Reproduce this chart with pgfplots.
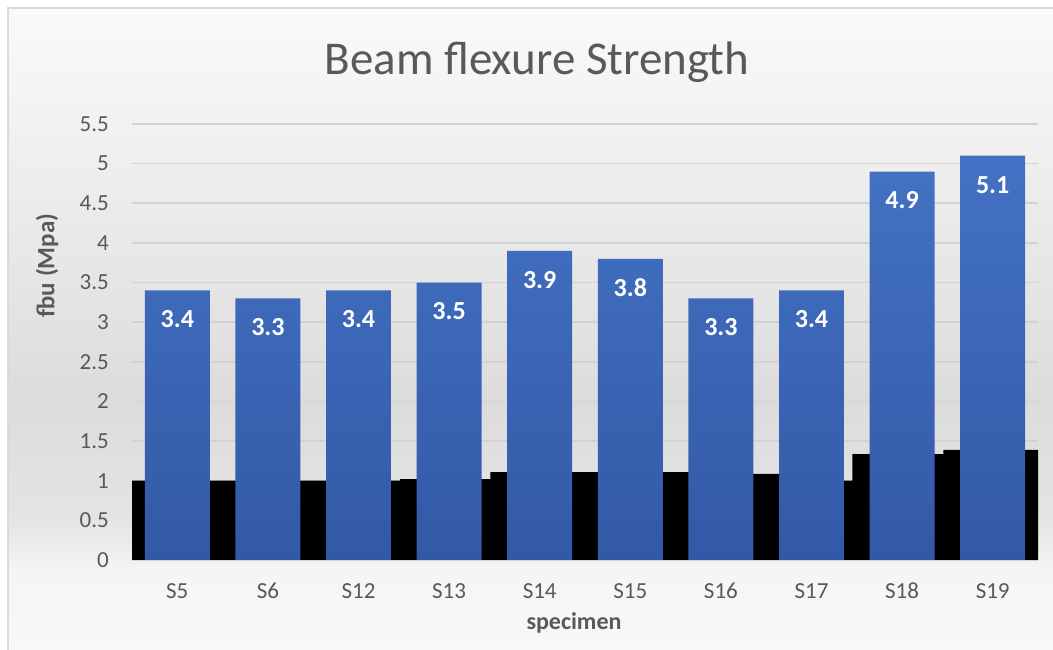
\documentclass[border=0pt]{standalone}
\usepackage{pgfplots}
\pgfplotsset{compat=1.18}
\usepackage{fontspec}
\setmainfont{Carlito}

\definecolor{txt}{HTML}{595959}
\definecolor{gridc}{HTML}{D2D2D2}
\definecolor{barTop}{HTML}{4472C4}
\definecolor{barBot}{HTML}{3259A6}
\definecolor{framec}{HTML}{D9D9D9}
\definecolor{bgTop}{HTML}{FAFAFA}
\definecolor{bgHigh}{HTML}{F1F1F1}
\definecolor{bgMid}{HTML}{DCDCDC}
\definecolor{bgMidLow}{HTML}{E4E4E4}
\definecolor{bgLow}{HTML}{F5F5F5}
\definecolor{bgBot}{HTML}{F8F8F8}

% chart-area background: light at the top, grey in the middle, light under the axis
\pgfdeclareverticalshading{chartbg}{100bp}{%
  color(0bp)=(bgBot); color(25bp)=(bgBot); color(31.2bp)=(bgLow);
  color(35.1bp)=(bgMidLow); color(44.5bp)=(bgMid); color(65.5bp)=(bgHigh);
  color(75bp)=(bgTop); color(100bp)=(bgTop)}

\begin{document}
\begin{tikzpicture}[x=1pt,y=1pt]
\useasboundingbox (0,0) rectangle (1053,650);
\fill[white] (0,0) rectangle (1053,650);
\shade[shading=chartbg] (8,0) rectangle (1053,642);
\draw[framec, line width=1.2pt] (8,-2) -- (8,642) -- (1056,642);

\node[anchor=base, font=\fontsize{47}{56}\selectfont, text=txt] at (537,575) {Beam flexure Strength};
\node[rotate=90, font=\bfseries\fontsize{25}{30}\selectfont, text=txt] at (47,384.5) {fbu (Mpa)};
\node[font=\bfseries\fontsize{24}{28}\selectfont, text=txt] at (574,27.5) {specimen};

\begin{axis}[
  at={(132pt,90pt)}, anchor=south west,
  scale only axis, width=906pt, height=436pt,
  xmin=-0.5, xmax=9.5, ymin=0, ymax=5.5,
  ytick={0,0.5,1,1.5,2,2.5,3,3.5,4,4.5,5,5.5},
  xtick={0,1,2,3,4,5,6,7,8,9},
  xticklabels={S5,S6,S12,S13,S14,S15,S16,S17,S18,S19},
  major tick length=0pt,
  tick style={draw=none},
  axis line style={draw=none},
  ymajorgrids,
  grid style={gridc, line width=1.6pt},
  /pgf/number format/assume math mode=true,
  ticklabel style={font=\fontsize{23}{27}\selectfont, text=txt},
  yticklabel style={anchor=east, inner sep=0pt, xshift=-23pt},
  xticklabel style={anchor=center, inner sep=0pt, yshift=-31pt},
]
% lower (black) series, drawn as a stepped area behind the bars
\addplot[fill=black, draw=none, const plot, forget plot] coordinates {
  (-0.5,1.0) (2.46,1.02) (3.455,1.11) (6.0,1.085) (7.0,1.0)
  (7.45,1.337) (8.455,1.388) (9.5,1.388)
} \closedcycle;

% flexural strength bars
\addplot[ybar, bar width=0.717, draw=none,
  top color=barTop, bottom color=barBot,
  nodes near coords,
  every node near coord/.append style={
    font=\bfseries\fontsize{26}{30}\selectfont, text=white,
    anchor=center, yshift=-29pt, /pgf/number format/assume math mode=true}
] coordinates {
  (0,3.4) (1,3.3) (2,3.4) (3,3.5) (4,3.9)
  (5,3.8) (6,3.3) (7,3.4) (8,4.9) (9,5.1)
};
\end{axis}
\end{tikzpicture}
\end{document}
